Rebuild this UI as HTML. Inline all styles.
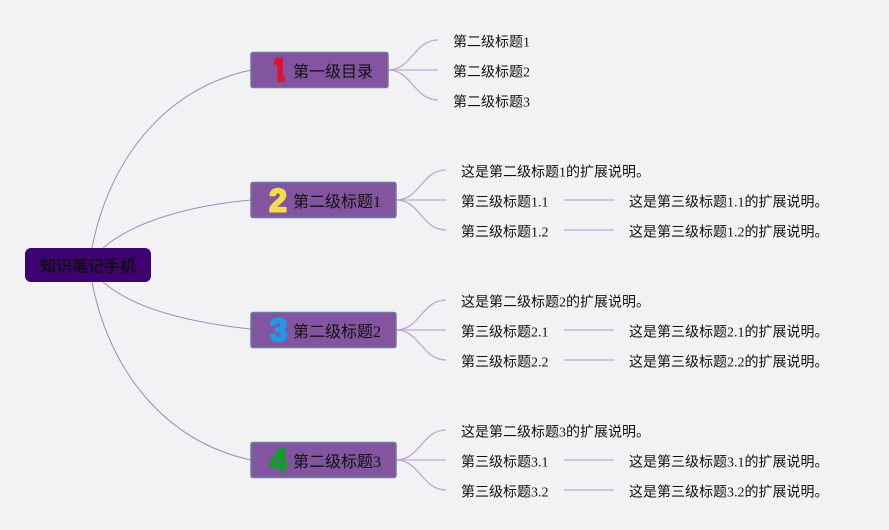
<!DOCTYPE html>
<html><head><meta charset="utf-8"><style>
html,body{margin:0;padding:0;background:#f2f2f5}
svg{display:block}
text{font-family:"Liberation Serif","Noto Sans CJK SC",sans-serif;font-size:14px;fill:#111}
text.n{font-family:"Liberation Sans",sans-serif;font-weight:700;font-size:32px;stroke-width:2;stroke-linejoin:round;text-anchor:middle}
text.h{font-size:16px}
text.r1{fill:#e0112f;stroke:#e0112f}
text.r2{fill:#f4dc4a;stroke:#f4dc4a}
text.r3{fill:#1f9be6;stroke:#1f9be6}
text.r4{fill:#179a2c;stroke:#179a2c}
.c{fill:none;stroke:#a08ab8;stroke-width:1}
.b{fill:none;stroke:#bba8d2;stroke-width:1.3}
.box{fill:#83549f;stroke:#6c7a9c;stroke-width:1.5}
</style></head><body>
<svg width="889" height="530" viewBox="0 0 889 530" xmlns="http://www.w3.org/2000/svg">
<defs><clipPath id="one"><polygon points="274,55 285,55 285,84 277.5,84 277.5,66 274,66"/></clipPath></defs>
<rect width="889" height="530" fill="#f2f2f5"/>
<path class="c" d="M92 248C108 165 160 90 251 70"/>
<path class="c" d="M103 248C135 220 195 205 251 200"/>
<path class="c" d="M103 282C135 310 195 323 251 329"/>
<path class="c" d="M92 282C108 365 160 440 251 460"/>
<rect x="25" y="248" width="126" height="34" rx="6" fill="#3f0071"/>
<text class="h" x="40" y="271.5" style="font-weight:700">知识笔记手机</text>

<g class="b">
<path d="M388 70C412 70 414 40 438 40"/><path d="M388 70H438"/><path d="M388 70C412 70 414 100 438 100"/>
<path d="M396 200C420 200 422 170 446 170"/><path d="M396 200H446"/><path d="M396 200C420 200 422 230 446 230"/>
<path d="M396 330C420 330 422 300 446 300"/><path d="M396 330H446"/><path d="M396 330C420 330 422 360 446 360"/>
<path d="M396 460C420 460 422 430 446 430"/><path d="M396 460H446"/><path d="M396 460C420 460 422 490 446 490"/>
<path d="M564 200H614"/><path d="M564 230H614"/><path d="M564 330H614"/><path d="M564 360H614"/><path d="M564 460H614"/><path d="M564 490H614"/>
</g>

<rect class="box" x="251" y="52.5" width="137" height="35" rx="2"/>
<rect class="box" x="251" y="182.5" width="145" height="35" rx="2"/>
<rect class="box" x="251" y="312.5" width="145" height="35" rx="2"/>
<rect class="box" x="251" y="442.5" width="145" height="35" rx="2"/>

<text class="n r1" x="279" y="81" clip-path="url(#one)">1</text>
<text class="n r2" x="278" y="211.5">2</text>
<text class="n r3" x="278.5" y="341">3</text>
<text class="n r4" x="278.5" y="471.5">4</text>

<text class="h" x="293" y="77">第一级目录</text>
<text class="h" x="293" y="207">第二级标题1</text>
<text class="h" x="293" y="337">第二级标题2</text>
<text class="h" x="293" y="467">第二级标题3</text>

<text x="453" y="46.5">第二级标题1</text>
<text x="453" y="76.5">第二级标题2</text>
<text x="453" y="106.5">第二级标题3</text>

<text x="461" y="176.5">这是第二级标题1的扩展说明。</text>
<text x="461" y="206.5">第三级标题1.1</text>
<text x="461" y="236.5">第三级标题1.2</text>
<text x="629" y="206.5">这是第三级标题1.1的扩展说明。</text>
<text x="629" y="236.5">这是第三级标题1.2的扩展说明。</text>

<text x="461" y="306.5">这是第二级标题2的扩展说明。</text>
<text x="461" y="336.5">第三级标题2.1</text>
<text x="461" y="366.5">第三级标题2.2</text>
<text x="629" y="336.5">这是第三级标题2.1的扩展说明。</text>
<text x="629" y="366.5">这是第三级标题2.2的扩展说明。</text>

<text x="461" y="436.5">这是第二级标题3的扩展说明。</text>
<text x="461" y="466.5">第三级标题3.1</text>
<text x="461" y="496.5">第三级标题3.2</text>
<text x="629" y="466.5">这是第三级标题3.1的扩展说明。</text>
<text x="629" y="496.5">这是第三级标题3.2的扩展说明。</text>
</svg>
</body></html>
